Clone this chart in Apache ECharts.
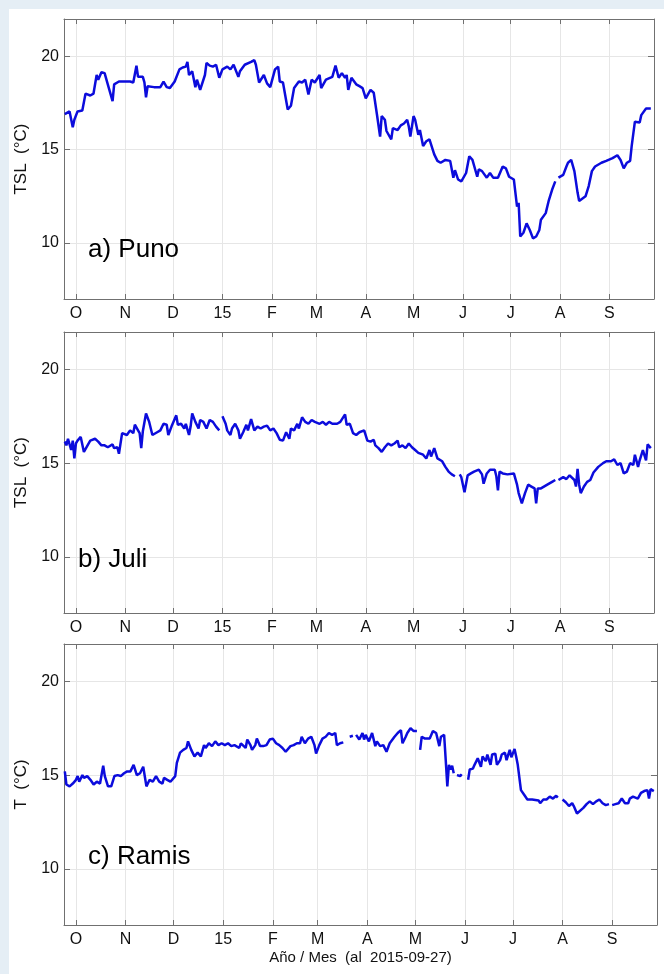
<!DOCTYPE html>
<html>
<head>
<meta charset="utf-8">
<script src="https://cdn.jsdelivr.net/npm/echarts@6/dist/echarts.min.js"></script>
<style>
  html, body { margin: 0; padding: 0; background: #e5eef5; }
  #paper { position: absolute; left: 9px; top: 9px; width: 655px; height: 965px; background: #fff; }
  #chart { position: absolute; left: 0; top: 0; width: 664px; height: 974px; }
</style>
</head>
<body>
<div id="paper"></div>
<div id="chart"></div>
<script>
// month ticks on the x axes (first day of each month)
const monthStarts = ['2014-10-01', '2014-11-01', '2014-12-01', '2015-01-01', '2015-02-01', '2015-03-01',
  '2015-04-01', '2015-05-01', '2015-06-01', '2015-07-01', '2015-08-01', '2015-09-01'];
const monthLabels = ['O', 'N', 'D', '15', 'F', 'M', 'A', 'M', 'J', 'J', 'A', 'S'];
const yTicks = [10, 15, 20];
const panelNames = ['a) Puno', 'b) Juli', 'c) Ramis'];
const yNames = ['TSL  (°C)', 'TSL  (°C)', 'T  (°C)'];

// daily temperature (°C); null = missing data
const punoData = [
  ['2014-09-24', 16.9], ['2014-09-25', 17.0], ['2014-09-27', 17.05], ['2014-09-29', 16.2], ['2014-09-30', 16.6],
  ['2014-10-02', 17.05], ['2014-10-05', 17.1], ['2014-10-06', 17.0], ['2014-10-07', 18.0], ['2014-10-10', 17.9],
  ['2014-10-12', 18.0], ['2014-10-14', 19.0], ['2014-10-15', 18.75], ['2014-10-17', 19.15], ['2014-10-19', 19.1],
  ['2014-10-21', 18.5], ['2014-10-22', 18.6], ['2014-10-24', 17.6], ['2014-10-25', 18.5], ['2014-10-28', 18.65],
  ['2014-10-31', 18.65], ['2014-11-04', 18.65], ['2014-11-06', 18.6], ['2014-11-08', 19.5], ['2014-11-09', 18.9],
  ['2014-11-12', 18.9], ['2014-11-13', 18.6], ['2014-11-14', 17.8], ['2014-11-15', 18.4], ['2014-11-19', 18.35],
  ['2014-11-23', 18.35], ['2014-11-25', 18.65], ['2014-11-27', 18.35], ['2014-11-29', 18.3], ['2014-12-02', 18.65],
  ['2014-12-05', 19.3], ['2014-12-07', 19.4], ['2014-12-09', 19.45], ['2014-12-10', 19.7], ['2014-12-11', 19.0],
  ['2014-12-13', 19.2], ['2014-12-15', 18.35], ['2014-12-16', 18.75], ['2014-12-18', 18.2], ['2014-12-19', 18.1],
  ['2014-12-21', 19.0], ['2014-12-22', 19.65], ['2014-12-24', 19.5], ['2014-12-26', 19.45], ['2014-12-28', 19.55],
  ['2014-12-30', 18.85], ['2015-01-01', 19.3], ['2015-01-04', 19.45], ['2015-01-06', 19.3], ['2015-01-08', 19.55],
  ['2015-01-11', 18.9], ['2015-01-12', 19.2], ['2015-01-15', 19.55], ['2015-01-19', 19.7], ['2015-01-21', 19.8],
  ['2015-01-22', 19.55], ['2015-01-24', 18.6], ['2015-01-27', 19.0], ['2015-01-29', 18.55], ['2015-01-31', 18.35],
  ['2015-02-03', 19.3], ['2015-02-05', 19.45], ['2015-02-06', 18.65], ['2015-02-08', 18.6], ['2015-02-11', 17.15],
  ['2015-02-13', 17.35], ['2015-02-15', 18.3], ['2015-02-18', 18.65], ['2015-02-20', 18.6], ['2015-02-22', 18.75],
  ['2015-02-24', 17.95], ['2015-02-26', 18.75], ['2015-02-28', 18.6], ['2015-03-03', 19.0], ['2015-03-04', 18.3],
  ['2015-03-07', 18.75], ['2015-03-11', 18.9], ['2015-03-13', 19.5], ['2015-03-14', 19.4], ['2015-03-15', 18.85],
  ['2015-03-17', 19.1], ['2015-03-19', 18.85], ['2015-03-20', 19.0], ['2015-03-21', 18.2], ['2015-03-23', 18.85],
  ['2015-03-24', 18.9], ['2015-03-26', 18.5], ['2015-03-28', 18.4], ['2015-03-30', 18.3], ['2015-03-31', 18.35],
  ['2015-04-01', 17.75], ['2015-04-03', 18.05], ['2015-04-04', 18.2], ['2015-04-06', 18.05], ['2015-04-08', 16.9],
  ['2015-04-09', 16.8], ['2015-04-10', 15.7], ['2015-04-11', 16.8], ['2015-04-13', 16.6], ['2015-04-14', 16.0],
  ['2015-04-17', 15.55], ['2015-04-18', 16.15], ['2015-04-21', 16.05], ['2015-04-23', 16.3], ['2015-04-25', 16.4],
  ['2015-04-27', 16.6], ['2015-04-28', 16.25], ['2015-04-29', 15.7], ['2015-05-01', 16.8], ['2015-05-02', 16.6],
  ['2015-05-04', 15.8], ['2015-05-05', 16.05], ['2015-05-07', 15.2], ['2015-05-09', 15.45], ['2015-05-11', 15.55],
  ['2015-05-14', 14.75], ['2015-05-16', 14.4], ['2015-05-18', 14.3], ['2015-05-21', 14.45], ['2015-05-24', 14.4],
  ['2015-05-26', 13.5], ['2015-05-27', 13.9], ['2015-05-29', 13.4], ['2015-05-31', 13.3], ['2015-06-03', 13.75],
  ['2015-06-05', 14.65], ['2015-06-07', 14.45], ['2015-06-08', 14.4], ['2015-06-10', 13.55], ['2015-06-11', 13.95],
  ['2015-06-13', 13.85], ['2015-06-16', 13.5], ['2015-06-18', 13.75], ['2015-06-20', 13.5], ['2015-06-23', 13.5],
  ['2015-06-26', 14.1], ['2015-06-28', 14.0], ['2015-06-29', 14.1], ['2015-06-30', 13.55], ['2015-07-03', 13.4],
  ['2015-07-05', 11.95], ['2015-07-06', 12.15], ['2015-07-07', 10.35], ['2015-07-09', 10.55], ['2015-07-11', 11.05],
  ['2015-07-13', 10.7], ['2015-07-15', 10.25], ['2015-07-17', 10.35], ['2015-07-19', 10.7], ['2015-07-20', 11.25],
  ['2015-07-23', 11.6], ['2015-07-25', 12.3], ['2015-07-27', 12.85], ['2015-07-29', 13.3], ['2015-07-30', null],
  ['2015-07-31', 13.5], ['2015-08-03', 13.65], ['2015-08-05', 14.1], ['2015-08-06', 14.3], ['2015-08-08', 14.45],
  ['2015-08-10', 13.85], ['2015-08-12', 12.7], ['2015-08-13', 12.25], ['2015-08-14', 12.25], ['2015-08-17', 12.5],
  ['2015-08-19', 13.05], ['2015-08-21', 13.85], ['2015-08-23', 14.1], ['2015-08-27', 14.3], ['2015-08-30', 14.4],
  ['2015-09-03', 14.55], ['2015-09-06', 14.7], ['2015-09-08', 14.45], ['2015-09-10', 14.0], ['2015-09-12', 14.3],
  ['2015-09-14', 14.4], ['2015-09-15', 15.2], ['2015-09-16', 15.25], ['2015-09-17', 16.5], ['2015-09-20', 16.45],
  ['2015-09-21', 16.85], ['2015-09-24', 17.2], ['2015-09-25', 17.2], ['2015-09-27', 17.2]
];

const juliData = [
  ['2014-09-24', 16.15], ['2014-09-25', 15.95], ['2014-09-26', 16.3], ['2014-09-28', 15.7], ['2014-09-29', 16.2],
  ['2014-09-30', 15.25], ['2014-10-01', 16.05], ['2014-10-02', 16.2], ['2014-10-04', 16.4], ['2014-10-06', 15.6],
  ['2014-10-07', 15.5], ['2014-10-09', 16.05], ['2014-10-10', 16.2], ['2014-10-13', 16.3], ['2014-10-15', 16.15],
  ['2014-10-17', 15.95], ['2014-10-19', 15.95], ['2014-10-21', 15.85], ['2014-10-24', 16.0], ['2014-10-25', 15.8],
  ['2014-10-27', 15.85], ['2014-10-28', 15.5], ['2014-10-30', 16.6], ['2014-10-31', 16.7], ['2014-11-02', 16.5],
  ['2014-11-04', 16.75], ['2014-11-06', 16.6], ['2014-11-07', 17.05], ['2014-11-09', 16.75], ['2014-11-10', 16.6],
  ['2014-11-11', 15.8], ['2014-11-12', 16.7], ['2014-11-14', 17.65], ['2014-11-16', 17.2], ['2014-11-18', 16.5],
  ['2014-11-21', 16.65], ['2014-11-23', 16.75], ['2014-11-25', 17.1], ['2014-11-27', 17.05], ['2014-11-28', 16.5],
  ['2014-11-30', 16.95], ['2014-12-01', 16.95], ['2014-12-03', 17.55], ['2014-12-04', 17.05], ['2014-12-06', 17.1],
  ['2014-12-08', 16.85], ['2014-12-09', 17.1], ['2014-12-11', 16.5], ['2014-12-12', 16.95], ['2014-12-13', 17.65],
  ['2014-12-15', 17.2], ['2014-12-17', 16.85], ['2014-12-18', 17.3], ['2014-12-20', 17.2], ['2014-12-22', 16.85],
  ['2014-12-24', 17.3], ['2014-12-26', 17.2], ['2014-12-28', 16.95], ['2014-12-30', 16.75], ['2014-12-31', null],
  ['2015-01-01', 17.5], ['2015-01-03', 17.1], ['2015-01-04', 16.75], ['2015-01-06', 16.5], ['2015-01-07', 16.85],
  ['2015-01-09', 17.1], ['2015-01-11', 16.75], ['2015-01-12', 16.3], ['2015-01-14', 16.65], ['2015-01-16', 17.05],
  ['2015-01-17', 16.75], ['2015-01-19', 17.35], ['2015-01-21', 16.75], ['2015-01-23', 16.95], ['2015-01-25', 16.85],
  ['2015-01-27', 16.95], ['2015-01-29', 17.0], ['2015-01-31', 16.75], ['2015-02-02', 16.85], ['2015-02-04', 16.6],
  ['2015-02-06', 16.25], ['2015-02-08', 16.2], ['2015-02-10', 16.65], ['2015-02-12', 16.3], ['2015-02-13', 16.85],
  ['2015-02-15', 16.75], ['2015-02-17', 17.1], ['2015-02-18', 16.85], ['2015-02-20', 17.45], ['2015-02-22', 17.2],
  ['2015-02-24', 17.1], ['2015-02-26', 17.3], ['2015-02-28', 17.2], ['2015-03-03', 17.1], ['2015-03-05', 17.2],
  ['2015-03-07', 17.05], ['2015-03-09', 17.2], ['2015-03-11', 17.1], ['2015-03-14', 17.1], ['2015-03-16', 17.2],
  ['2015-03-19', 17.6], ['2015-03-20', 17.05], ['2015-03-22', 17.1], ['2015-03-24', 16.6], ['2015-03-26', 16.5],
  ['2015-03-28', 16.65], ['2015-03-31', 16.75], ['2015-04-02', 16.2], ['2015-04-04', 16.15], ['2015-04-06', 16.25],
  ['2015-04-07', 15.95], ['2015-04-09', 15.8], ['2015-04-11', 15.6], ['2015-04-13', 15.85], ['2015-04-15', 16.05],
  ['2015-04-17', 15.95], ['2015-04-19', 16.05], ['2015-04-21', 16.2], ['2015-04-22', 15.85], ['2015-04-24', 15.95],
  ['2015-04-26', 15.8], ['2015-04-28', 16.05], ['2015-04-30', 15.85], ['2015-05-02', 15.7], ['2015-05-04', 15.55],
  ['2015-05-07', 15.45], ['2015-05-09', 15.25], ['2015-05-11', 15.7], ['2015-05-12', 15.35], ['2015-05-14', 15.8],
  ['2015-05-16', 15.25], ['2015-05-19', 15.1], ['2015-05-21', 14.8], ['2015-05-23', 14.55], ['2015-05-25', 14.4],
  ['2015-05-27', 14.3], ['2015-05-28', null], ['2015-05-30', 14.4], ['2015-05-31', 14.25], ['2015-06-02', 13.45],
  ['2015-06-04', 14.35], ['2015-06-06', 14.45], ['2015-06-08', 14.55], ['2015-06-11', 14.65], ['2015-06-13', 14.4],
  ['2015-06-14', 13.9], ['2015-06-16', 14.45], ['2015-06-18', 14.65], ['2015-06-21', 14.65], ['2015-06-22', 14.3],
  ['2015-06-23', 13.55], ['2015-06-24', 14.55], ['2015-06-26', 14.45], ['2015-06-29', 14.4], ['2015-07-03', 14.45],
  ['2015-07-05', 13.85], ['2015-07-06', 13.4], ['2015-07-08', 12.85], ['2015-07-10', 13.4], ['2015-07-12', 13.85],
  ['2015-07-14', 13.75], ['2015-07-16', 13.65], ['2015-07-17', 12.85], ['2015-07-18', 13.65], ['2015-07-20', 13.65],
  ['2015-07-24', 13.85], ['2015-07-27', 14.0], ['2015-07-29', 14.1], ['2015-07-30', null], ['2015-07-31', 14.1],
  ['2015-08-03', 14.25], ['2015-08-05', 14.15], ['2015-08-07', 14.35], ['2015-08-10', 14.1], ['2015-08-11', 13.75],
  ['2015-08-12', 14.7], ['2015-08-13', 13.85], ['2015-08-14', 13.4], ['2015-08-16', 13.75], ['2015-08-18', 14.0],
  ['2015-08-20', 14.1], ['2015-08-22', 14.5], ['2015-08-23', 14.45], ['2015-08-25', 14.8], ['2015-08-28', 15.0],
  ['2015-08-30', 15.1], ['2015-09-02', 15.1], ['2015-09-04', 15.2], ['2015-09-06', 14.9], ['2015-09-08', 15.0],
  ['2015-09-10', 14.45], ['2015-09-12', 14.55], ['2015-09-14', 15.0], ['2015-09-16', 14.9], ['2015-09-17', 15.45],
  ['2015-09-19', 14.8], ['2015-09-20', 15.15], ['2015-09-22', 15.7], ['2015-09-24', 15.15], ['2015-09-25', 16.0],
  ['2015-09-27', 15.8]
];

const ramisData = [
  ['2014-09-24', 15.2], ['2014-09-25', 14.5], ['2014-09-27', 14.4], ['2014-09-29', 14.55], ['2014-10-01', 14.75],
  ['2014-10-02', 14.95], ['2014-10-03', 14.65], ['2014-10-05', 15.0], ['2014-10-06', 14.85], ['2014-10-08', 14.95],
  ['2014-10-10', 14.75], ['2014-10-12', 14.5], ['2014-10-14', 14.65], ['2014-10-16', 14.55], ['2014-10-18', 15.5],
  ['2014-10-19', 14.95], ['2014-10-21', 14.4], ['2014-10-23', 14.4], ['2014-10-25', 14.95], ['2014-10-27', 15.0],
  ['2014-10-29', 14.95], ['2014-10-31', 15.1], ['2014-11-02', 15.2], ['2014-11-04', 15.2], ['2014-11-06', 15.55],
  ['2014-11-08', 15.0], ['2014-11-10', 15.1], ['2014-11-12', 15.45], ['2014-11-14', 14.4], ['2014-11-16', 14.75],
  ['2014-11-18', 14.65], ['2014-11-20', 14.95], ['2014-11-22', 14.65], ['2014-11-24', 14.55], ['2014-11-25', 14.85],
  ['2014-11-27', 14.75], ['2014-11-29', 14.65], ['2014-12-02', 14.95], ['2014-12-03', 15.65], ['2014-12-05', 16.2],
  ['2014-12-07', 16.35], ['2014-12-09', 16.45], ['2014-12-10', 16.8], ['2014-12-12', 16.35], ['2014-12-14', 16.0],
  ['2014-12-16', 16.2], ['2014-12-18', 16.0], ['2014-12-20', 16.6], ['2014-12-21', 16.45], ['2014-12-23', 16.7],
  ['2014-12-25', 16.55], ['2014-12-27', 16.8], ['2014-12-29', 16.6], ['2014-12-31', 16.7], ['2015-01-02', 16.6],
  ['2015-01-04', 16.7], ['2015-01-06', 16.55], ['2015-01-08', 16.6], ['2015-01-11', 16.45], ['2015-01-12', 16.7],
  ['2015-01-15', 16.45], ['2015-01-16', 16.9], ['2015-01-18', 16.6], ['2015-01-19', 16.35], ['2015-01-21', 16.6],
  ['2015-01-22', 16.95], ['2015-01-24', 16.55], ['2015-01-26', 16.55], ['2015-01-28', 16.6], ['2015-01-30', 16.9],
  ['2015-02-01', 16.95], ['2015-02-03', 16.7], ['2015-02-05', 16.6], ['2015-02-07', 16.45], ['2015-02-09', 16.25],
  ['2015-02-12', 16.55], ['2015-02-14', 16.6], ['2015-02-16', 16.7], ['2015-02-18', 16.7], ['2015-02-19', 17.05],
  ['2015-02-21', 16.7], ['2015-02-23', 16.95], ['2015-02-25', 17.05], ['2015-02-27', 16.6], ['2015-02-28', 16.15],
  ['2015-03-02', 16.6], ['2015-03-04', 16.95], ['2015-03-06', 17.05], ['2015-03-08', 17.25], ['2015-03-10', 17.15],
  ['2015-03-12', 17.25], ['2015-03-13', 16.6], ['2015-03-15', 16.7], ['2015-03-17', 16.75], ['2015-03-19', null],
  ['2015-03-21', 17.05], ['2015-03-23', 17.1], ['2015-03-24', null], ['2015-03-25', 17.15], ['2015-03-27', 16.9],
  ['2015-03-29', 17.25], ['2015-03-30', 16.9], ['2015-03-31', 17.15], ['2015-04-02', 16.8], ['2015-04-04', 17.25],
  ['2015-04-06', 16.55], ['2015-04-07', 16.8], ['2015-04-09', 16.55], ['2015-04-11', 16.6], ['2015-04-13', 16.25],
  ['2015-04-15', 16.7], ['2015-04-18', 17.05], ['2015-04-20', 17.25], ['2015-04-22', 17.4], ['2015-04-23', 16.7],
  ['2015-04-25', 17.05], ['2015-04-26', 17.25], ['2015-04-28', 17.5], ['2015-04-30', 17.35], ['2015-05-01', 17.45],
  ['2015-05-02', 17.35], ['2015-05-03', null], ['2015-05-04', 16.35], ['2015-05-05', 17.05], ['2015-05-07', 16.95],
  ['2015-05-08', 17.05], ['2015-05-10', 16.95], ['2015-05-12', 17.35], ['2015-05-14', 17.25], ['2015-05-16', 16.55],
  ['2015-05-17', 17.05], ['2015-05-19', 17.15], ['2015-05-20', 15.8], ['2015-05-21', 14.4], ['2015-05-22', 15.55],
  ['2015-05-23', 15.3], ['2015-05-24', 15.5], ['2015-05-25', 15.1], ['2015-05-26', null], ['2015-05-27', 15.0],
  ['2015-05-29', 14.95], ['2015-05-30', 15.05], ['2015-05-31', null], ['2015-06-03', 14.75], ['2015-06-04', 15.3],
  ['2015-06-06', 15.35], ['2015-06-07', 15.55], ['2015-06-09', 15.9], ['2015-06-11', 15.45], ['2015-06-12', 16.0],
  ['2015-06-14', 15.75], ['2015-06-15', 16.1], ['2015-06-17', 15.55], ['2015-06-18', 16.1], ['2015-06-20', 16.15],
  ['2015-06-21', 15.55], ['2015-06-23', 15.8], ['2015-06-24', 16.1], ['2015-06-26', 16.2], ['2015-06-27', 15.8],
  ['2015-06-29', 16.35], ['2015-06-30', 15.95], ['2015-07-02', 16.4], ['2015-07-03', 16.0], ['2015-07-04', 15.55],
  ['2015-07-05', 15.55], ['2015-07-06', 14.2], ['2015-07-08', 13.95], ['2015-07-10', 13.7], ['2015-07-13', 13.7],
  ['2015-07-17', 13.65], ['2015-07-18', 13.5], ['2015-07-20', 13.7], ['2015-07-22', 13.7], ['2015-07-24', 13.85],
  ['2015-07-26', 13.75], ['2015-07-28', 13.9], ['2015-07-29', 13.8], ['2015-07-31', null], ['2015-08-01', 13.7],
  ['2015-08-03', 13.55], ['2015-08-05', 13.35], ['2015-08-07', 13.5], ['2015-08-08', 13.35], ['2015-08-10', 12.95],
  ['2015-08-11', 13.0], ['2015-08-14', 13.25], ['2015-08-16', 13.45], ['2015-08-18', 13.6], ['2015-08-20', 13.45],
  ['2015-08-22', 13.6], ['2015-08-24', 13.7], ['2015-08-26', 13.5], ['2015-08-28', 13.4], ['2015-08-30', 13.45],
  ['2015-08-31', null], ['2015-09-01', 13.4], ['2015-09-03', 13.45], ['2015-09-05', 13.5], ['2015-09-07', 13.75],
  ['2015-09-09', 13.5], ['2015-09-11', 13.5], ['2015-09-12', 13.75], ['2015-09-14', 13.85], ['2015-09-17', 13.75],
  ['2015-09-19', 14.05], ['2015-09-21', 14.15], ['2015-09-23', 14.2], ['2015-09-24', 13.75], ['2015-09-25', 14.25],
  ['2015-09-27', 14.15]
];

const seriesData = [punoData, juliData, ramisData];

const FONT = '"Liberation Sans", Arial, Helvetica, sans-serif';
const AXIS_GRAY = '#707070';
const GRID_GRAY = '#e6e6e6';
const LINE_BLUE = '#0c0cdc';
const toTime = (d) => new Date(d + 'T00:00:00').getTime();
const X_MIN = new Date('2014-09-23T12:00:00').getTime();
const X_MAX = new Date('2015-09-29T00:00:00').getTime();
const tickTimes = monthStarts.map(toTime);

const grids = [
  { left: 64, top: 19, width: 590, height: 280 },
  { left: 64, top: 332, width: 590, height: 281 },
  { left: 64, top: 644, width: 593, height: 281 },
];
const labelPos = [[88, 250], [78, 560], [88, 857]];

function monthLabel(v) {
  let best = 0;
  for (let i = 1; i < tickTimes.length; i++) {
    if (Math.abs(tickTimes[i] - v) < Math.abs(tickTimes[best] - v)) best = i;
  }
  return monthLabels[best];
}

const xAxes = [];
const yAxes = [];
const series = [];
const graphic = [];

grids.forEach((g, i) => {
  const last = i === grids.length - 1;
  xAxes.push({
    type: 'value', gridIndex: i, position: 'bottom', min: X_MIN, max: X_MAX,
    axisLine: { onZero: false, lineStyle: { color: AXIS_GRAY, width: 1 } },
    axisTick: { inside: true, length: 5, customValues: tickTimes, lineStyle: { color: AXIS_GRAY } },
    axisLabel: { customValues: tickTimes, formatter: monthLabel, color: '#111', fontSize: 16, fontFamily: FONT, margin: 7 },
    splitLine: { show: true, lineStyle: { color: GRID_GRAY, width: 1 } },
    name: last ? 'Año / Mes  (al  2015-09-27)' : '',
    nameLocation: 'middle', nameGap: 25,
    nameTextStyle: { color: '#111', fontSize: 15, fontFamily: FONT },
  });
  xAxes.push({
    type: 'value', gridIndex: i, position: 'top', min: X_MIN, max: X_MAX,
    axisLine: { onZero: false, lineStyle: { color: AXIS_GRAY, width: 1 } },
    axisTick: { inside: true, length: 5, customValues: tickTimes, lineStyle: { color: AXIS_GRAY } },
    axisLabel: { show: false },
    splitLine: { show: false },
  });
  yAxes.push({
    type: 'value', gridIndex: i, position: 'left', min: 7, max: 22,
    axisLine: { show: true, onZero: false, lineStyle: { color: AXIS_GRAY, width: 1 } },
    axisTick: { show: true, inside: true, length: 6, customValues: yTicks, lineStyle: { color: AXIS_GRAY } },
    axisLabel: { customValues: yTicks, color: '#111', fontSize: 16, fontFamily: FONT, margin: 5 },
    splitLine: { show: true, lineStyle: { color: GRID_GRAY, width: 1 } },
    name: yNames[i], nameLocation: 'middle', nameGap: 30,
    nameTextStyle: { color: '#111', fontSize: 17, fontFamily: FONT },
  });
  yAxes.push({
    type: 'value', gridIndex: i, position: 'right', min: 7, max: 22,
    axisLine: { show: true, onZero: false, lineStyle: { color: AXIS_GRAY, width: 1 } },
    axisTick: { show: true, inside: true, length: 6, customValues: yTicks, lineStyle: { color: AXIS_GRAY } },
    axisLabel: { show: false },
    splitLine: { show: false },
  });
  series.push({
    type: 'line', xAxisIndex: 2 * i, yAxisIndex: 2 * i,
    data: seriesData[i].map(([d, v]) => [toTime(d), v === null ? '-' : v]),
    symbol: 'none', connectNulls: false,
    lineStyle: { color: LINE_BLUE, width: 2.5 },
    z: 5,
  });
  graphic.push({
    type: 'text', x: labelPos[i][0], y: labelPos[i][1], z: 10,
    style: { text: panelNames[i], font: '26px ' + FONT, fill: '#000', verticalAlign: 'middle' },
  });
});

const chart = echarts.init(document.getElementById('chart'), null, { renderer: 'canvas' });
chart.setOption({
  animation: false,
  backgroundColor: 'transparent',
  grid: grids,
  xAxis: xAxes,
  yAxis: yAxes,
  series,
  graphic,
});
</script>
</body>
</html>
